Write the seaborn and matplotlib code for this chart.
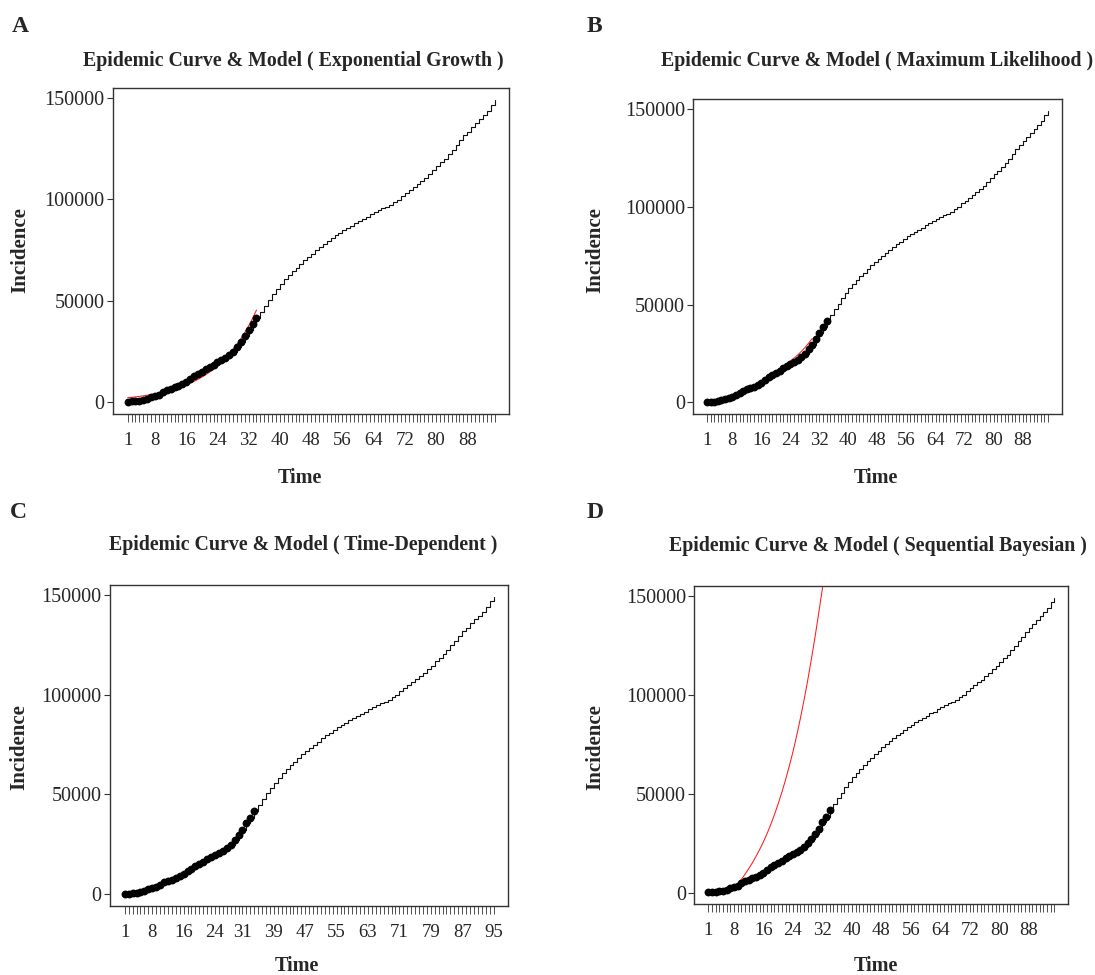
import numpy as np
import pandas as pd
import matplotlib
matplotlib.use("Agg")
import matplotlib.pyplot as plt
import seaborn as sns

# ---------------- data ----------------
days = list(range(1, 96))
cumulative = [139, 245, 388, 593, 978, 1501, 2336, 2922, 3513, 4747,
              5823, 6566, 7161, 8042, 9000, 10075, 11364, 12729, 13938, 14991,
              16169, 17361, 18407, 19644, 20610, 21638, 23049, 24811, 27017, 29406,
              32332, 35408, 38309, 41495, 44605, 47593, 50468, 53183, 55743, 58226,
              60500, 62589, 64586, 66220, 68192, 70029, 71686, 73303, 74877, 76389,
              77995, 79494, 80868, 82211, 83505, 84802, 85996, 87026, 88194, 89328,
              90481, 91472, 92584, 93657, 94640, 95646, 96448, 97424, 98647, 99970,
              101650, 103135, 104691, 106220, 107603, 109286, 110767, 112725, 114533, 116635,
              118392, 120198, 122492, 124603, 126949, 129341, 131652, 133521, 135701, 137724,
              139511, 141591, 143849, 146668, 148950]
n_fit_points = 34  # dots drawn for the first 34 days

# model curves
exp_days = list(range(1, 35))
exp_model = [2070, 2280, 2500, 2740, 3010, 3310, 3630, 3990, 4380, 4810,
             5280, 5800, 6370, 6990, 7680, 8430, 9260, 10160, 11160, 12260,
             13460, 14770, 16220, 17810, 19560, 21480, 23590, 25900, 28440, 31230,
             34290, 37650, 41350, 45400]

ml_days = list(range(5, 31))
ml_model = [700, 1050, 1550, 2150, 2850, 3650, 4550, 5550, 6650, 7850,
            9100, 10400, 11700, 13000, 14300, 15650, 17000, 18400, 19800, 21200,
            22600, 24200, 26000, 28000, 30200, 32600]

td_days = list(range(1, 35))
td_model = [140, 250, 390, 600, 980, 1500, 2300, 2920, 3550, 4750,
            5800, 6570, 7200, 8050, 9000, 10080, 11360, 12720, 13930, 15000,
            16170, 17360, 18420, 19640, 20620, 21660, 23050, 24800, 27000, 29500,
            32400, 35300, 38200, 41300]

sb_days = list(range(9, 34))
sb_model = [4200, 6600, 9200, 12000, 15000, 18300, 21800, 25600, 29800, 34400,
            39400, 44800, 50600, 56900, 63700, 71000, 79000, 87700, 97000, 107000,
            117700, 129000, 141000, 153500, 166500]

labels_std = [1, 8, 16, 24, 32, 40, 48, 56, 64, 72, 80, 88]
labels_c = [1, 8, 16, 24, 31, 39, 47, 55, 63, 71, 79, 87, 95]
y_ticks = [0, 50000, 100000, 150000]

titles = ["Epidemic Curve & Model ( Exponential Growth )",
          "Epidemic Curve & Model ( Maximum Likelihood )",
          "Epidemic Curve & Model ( Time-Dependent )",
          "Epidemic Curve & Model ( Sequential Bayesian )"]
letters = ["A", "B", "C", "D"]

# ---------------- style ----------------
sns.set_theme(style="white")
plt.rcParams['font.family'] = ['Liberation Serif', 'DejaVu Serif']

W, H = 1095, 975
fig = plt.figure(figsize=(W / 100, H / 100), dpi=100)
fig.patch.set_facecolor("white")

def box(l, t, r, b):
    return [l / W, 1 - b / H, (r - l) / W, (b - t) / H]

panel_boxes = [box(113, 88.3, 509.3, 414), box(693.3, 99.3, 1061.7, 414),
               box(110, 585, 508.3, 906), box(694.3, 586, 1068.3, 904.3)]
title_pos = [(293, 61), (877.5, 61), (303, 545), (878, 546)]
ylab_pos = [(20, 250), (595, 250), (19, 747), (595, 747)]
xlab_pos = [(300, 478), (876, 478), (297, 966), (876, 966)]
letter_pos = [(20.5, 26), (594, 26), (18.5, 513), (595, 513)]
models = [(exp_days, exp_model), (ml_days, ml_model), (td_days, td_model), (sb_days, sb_model)]
label_sets = [labels_std, labels_std, labels_c, labels_std]

df = pd.DataFrame({"day": days, "cases": cumulative})
df_fit = df.iloc[:n_fit_points]

ymax = max(cumulative)
ypad = 0.04 * ymax
xpad = 0.04 * (days[-1] - days[0])

def ftext(x, y, s, **kw):
    fig.text(x / W, 1 - y / H, s, ha="center", va="center", **kw)

for i in range(4):
    ax = fig.add_axes(panel_boxes[i])
    ax.set_facecolor("white")
    sns.lineplot(data=df, x="day", y="cases", ax=ax, color="#111111", lw=0.8,
                 drawstyle="steps-post", estimator=None, sort=False)
    md, mv = models[i]
    mdf = pd.DataFrame({"day": md, "fit": mv})
    sns.lineplot(data=mdf, x="day", y="fit", ax=ax, color="#ff1a1a", lw=0.75,
                 estimator=None, sort=False, zorder=2.5)
    sns.scatterplot(data=df_fit, x="day", y="cases", ax=ax, color="black",
                    s=32, linewidth=0, zorder=3)
    ax.set_xlim(days[0] - xpad, days[-1] + xpad)
    ax.set_ylim(-ypad, ymax + ypad)
    ax.set_xticks(days, labels=[str(d) if d in label_sets[i] else "" for d in days])
    ax.set_yticks(y_ticks, labels=[str(v) for v in y_ticks])
    ax.tick_params(axis="x", direction="out", length=6, width=0.6, color="#333333",
                   pad=7, labelsize=13.5, bottom=True)
    ax.tick_params(axis="y", direction="out", length=4, width=0.8, color="#333333",
                   pad=2, labelsize=14.5, left=True)
    ax.set_xlabel("")
    ax.set_ylabel("")
    for sp in ax.spines.values():
        sp.set_visible(True)
        sp.set_color("#333333")
        sp.set_linewidth(1.0)
    ax.grid(False)
    ftext(*title_pos[i], titles[i], fontsize=14.3, fontweight="bold")
    ftext(*ylab_pos[i], "Incidence", fontsize=15, fontweight="bold", rotation=90)
    ftext(*xlab_pos[i], "Time", fontsize=14.5, fontweight="bold")
    ftext(*letter_pos[i], letters[i], fontsize=17, fontweight="bold")

fig.savefig("out.png", dpi=100, facecolor="white")
